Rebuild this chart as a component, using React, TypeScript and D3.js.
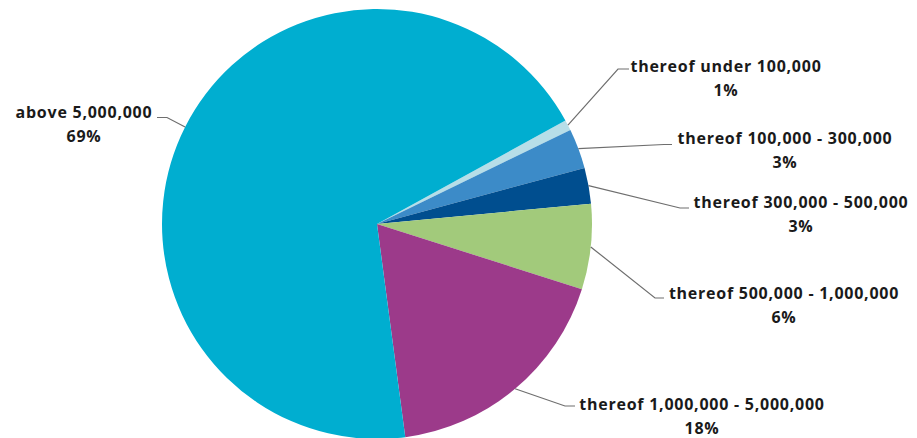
import React from "react";
import * as d3 from "d3";

const categories = [
  "thereof under 100,000",
  "thereof 100,000 - 300,000",
  "thereof 300,000 - 500,000",
  "thereof 500,000 - 1,000,000",
  "thereof 1,000,000 - 5,000,000",
  "above 5,000,000",
];
const shares = [0.8, 3.0, 2.7, 6.4, 18.0, 69.1];
const shareLabels = ["1%", "3%", "3%", "6%", "18%", "69%"];
const colors = ["#B7DEE8", "#3C8BC8", "#004E8F", "#A2CA7B", "#9C3A8A", "#00AED0"];

// label layout: text centre x, first line centre y, elbow x, elbow y, end x
const labelLayout = [
  { tx: 726, ty: 66, ex: 618, ey: 69, endX: 629 },
  { tx: 785, ty: 138, ex: 664, ey: 144.5, endX: 672 },
  { tx: 801, ty: 202, ex: 680, ey: 208, endX: 689 },
  { tx: 784, ty: 293, ex: 655, ey: 298, endX: 664 },
  { tx: 702, ty: 404, ex: 565, ey: 406, endX: 575 },
  { tx: 84, ty: 112, ex: 167, ey: 117.5, endX: 157 },
];

const W = 917;
const H = 438;
const cx = 377;
const cy = 224;
const R = 215;
const startDeg = 61.2;

export default function App() {
  const a0 = (startDeg * Math.PI) / 180;
  const pie = d3
    .pie<number>()
    .sort(null)
    .value((d) => d)
    .startAngle(a0)
    .endAngle(a0 + 2 * Math.PI);
  const arcs = pie(shares);
  const arcGen = d3.arc<d3.PieArcDatum<number>>().innerRadius(0).outerRadius(R);

  return (
    <svg
      width={W}
      height={H}
      style={{ position: "absolute", left: 0, top: 0, background: "#fff" }}
      fontFamily="'Open Sans', sans-serif"
    >
      <g transform={`translate(${cx},${cy})`}>
        {arcs.map((a, i) => (
          <path key={i} d={arcGen(a) || ""} fill={colors[i]} />
        ))}
      </g>
      {arcs.map((a, i) => {
        const mid = (a.startAngle + a.endAngle) / 2;
        const sx = cx + R * Math.sin(mid);
        const sy = cy - R * Math.cos(mid);
        const L = labelLayout[i];
        return (
          <g key={"l" + i}>
            <polyline
              points={`${sx},${sy} ${L.ex},${L.ey} ${L.endX},${L.ey}`}
              fill="none"
              stroke="#6e6e6e"
              strokeWidth={1.2}
            />
            <text
              x={L.tx}
              y={L.ty}
              textAnchor="middle"
              dominantBaseline="central"
              fontSize={16}
              fontWeight="bold"
              letterSpacing={0.75}
              fill="#1a1a1a"
            >
              {categories[i]}
            </text>
            <text
              x={L.tx}
              y={L.ty + 24}
              textAnchor="middle"
              dominantBaseline="central"
              fontSize={16}
              fontWeight="bold"
              letterSpacing={0.75}
              fill="#1a1a1a"
            >
              {shareLabels[i]}
            </text>
          </g>
        );
      })}
    </svg>
  );
}
